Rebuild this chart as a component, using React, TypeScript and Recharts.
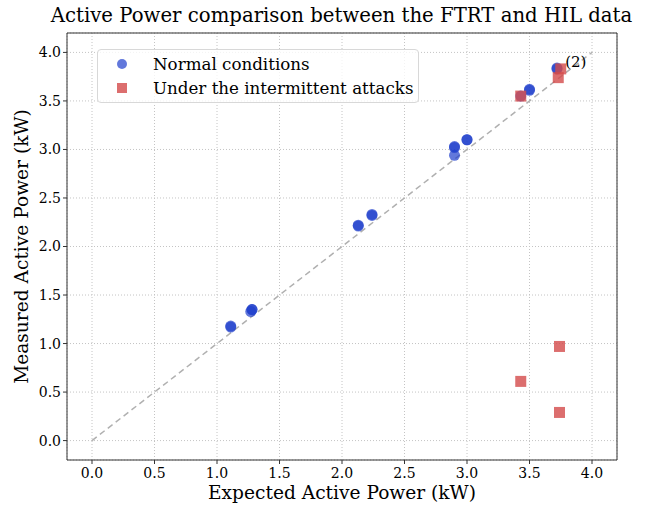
import React from "react";
import {
  ScatterChart,
  Scatter,
  XAxis,
  YAxis,
  CartesianGrid,
  ReferenceLine,
  ReferenceDot,
  Label,
} from "recharts";

// Normal operation: several samples overlap almost exactly
const normalExpected = [1.11, 1.11, 1.28, 1.28, 1.27, 2.13, 2.13, 2.24, 2.24, 2.9, 2.9, 2.9, 3.0, 3.0, 3.43, 3.5, 3.5, 3.72, 3.72];
const normalMeasured = [1.17, 1.18, 1.35, 1.35, 1.33, 2.21, 2.22, 2.32, 2.33, 3.02, 3.03, 2.94, 3.1, 3.1, 3.55, 3.61, 3.62, 3.83, 3.84];

const attackExpected = [3.43, 3.73, 3.75, 3.43, 3.74, 3.74];
const attackMeasured = [3.55, 3.74, 3.83, 0.61, 0.97, 0.29];

const ticks = [0, 0.5, 1, 1.5, 2, 2.5, 3, 3.5, 4];

const normalData = normalExpected.map((x, i) => ({ x, y: normalMeasured[i] }));
const attackData = attackExpected.map((x, i) => ({ x, y: attackMeasured[i] }));

const FONT = "'DejaVu Serif', serif";
const BLUE = "#1f3fcc";
const RED = "#d34a4a";

function Circle(props: any) {
  return <circle cx={props.cx} cy={props.cy} r={5.5} fill={BLUE} fillOpacity={0.7} />;
}

function Square(props: any) {
  return (
    <rect x={props.cx - 5.5} y={props.cy - 5.5} width={11} height={11} fill={RED} fillOpacity={0.8} />
  );
}

function LegendBox() {
  return (
    <div
      style={{
        position: "absolute",
        left: 97,
        top: 49,
        width: 322,
        height: 54,
        boxSizing: "border-box",
        border: "1px solid #d8d8d8",
        borderRadius: 4,
        background: "rgba(255,255,255,0.8)",
        padding: "2px 0 0 19px",
        fontFamily: FONT,
        fontSize: 16.7,
        color: "#000",
        whiteSpace: "nowrap",
      }}
    >
      <div style={{ display: "flex", alignItems: "center", height: 24 }}>
        <span
          style={{ width: 10, height: 10, borderRadius: 5, background: BLUE, opacity: 0.7, marginRight: 26 }}
        />
        Normal conditions
      </div>
      <div style={{ display: "flex", alignItems: "center", height: 24 }}>
        <span style={{ width: 10, height: 10, background: RED, opacity: 0.8, marginRight: 26 }} />
        Under the intermittent attacks
      </div>
    </div>
  );
}

export default function App() {
  const tickStyle = { fontFamily: FONT, fontSize: 14, fill: "#000" };
  return (
    <div style={{ position: "absolute", left: 0, top: 0, width: 649, height: 507 }}>
      <div
        style={{
          position: "absolute",
          top: 4,
          left: 0,
          width: 649,
          textAlign: "center",
          fontFamily: FONT,
          fontSize: 19.7,
          paddingLeft: 34,
          boxSizing: "border-box",
          whiteSpace: "nowrap",
        }}
      >
        Active Power comparison between the FTRT and HIL data
      </div>
      <ScatterChart width={649} height={507} margin={{ top: 33, right: 32, bottom: 0, left: 0 }}>
        <CartesianGrid strokeDasharray="1 2" stroke="#c4c4c4" />
        <XAxis
          type="number"
          dataKey="x"
          domain={[-0.2, 4.2]}
          ticks={ticks}
          tickFormatter={(v: number) => v.toFixed(1)}
          tick={tickStyle}
          height={47}
          stroke="#333"
          tickSize={4}
          tickMargin={4}
          allowDataOverflow
        >
          <Label
            value="Expected Active Power (kW)"
            position="insideBottom"
            offset={8}
            style={{ fontFamily: FONT, fontSize: 18.6, fill: "#000" }}
          />
        </XAxis>
        <YAxis
          type="number"
          dataKey="y"
          domain={[-0.2, 4.2]}
          ticks={ticks}
          tickFormatter={(v: number) => v.toFixed(1)}
          tick={tickStyle}
          width={67}
          stroke="#333"
          tickSize={4}
          allowDataOverflow
        >
          <Label
            value="Measured Active Power (kW)"
            angle={-90}
            position="center"
            dx={-12}
            style={{ fontFamily: FONT, fontSize: 18.6, fill: "#000", textAnchor: "middle" }}
          />
        </YAxis>
        <ReferenceLine x={4.2} stroke="#333" />
        <ReferenceLine y={4.2} stroke="#333" />
        <ReferenceLine
          segment={[
            { x: 0, y: 0 },
            { x: 4, y: 4 },
          ]}
          stroke="#b0b0b0"
          strokeWidth={1.5}
          strokeDasharray="6 4"
        />
        <Scatter name="Normal conditions" data={normalData} shape={Circle} isAnimationActive={false} />
        <Scatter
          name="Under the intermittent attacks"
          data={attackData}
          shape={Square}
          isAnimationActive={false}
        />
        <ReferenceDot
          x={3.87}
          y={3.9}
          r={0}
          fill="none"
          stroke="none"
          label={{ value: "(2)", position: "center", style: { fontFamily: FONT, fontSize: 15, fill: "#000" } }}
        />
      </ScatterChart>
      <LegendBox />
    </div>
  );
}
